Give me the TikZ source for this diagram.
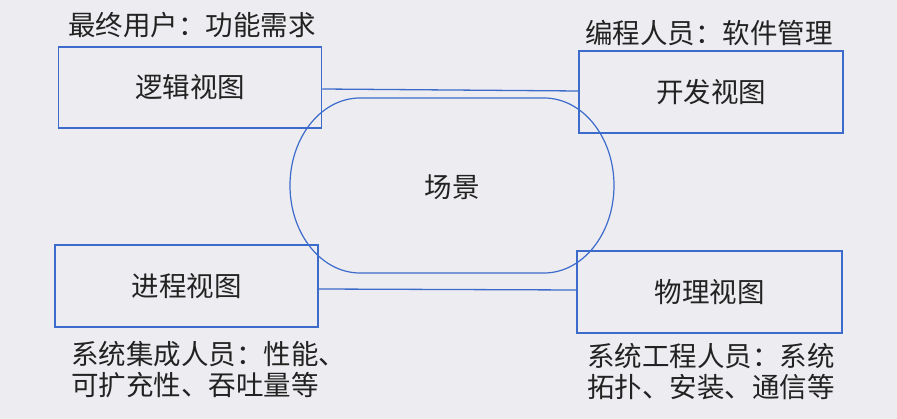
\documentclass[tikz,border=0pt]{standalone}
\usepackage{fontspec}
\newfontfamily\cjk{Noto Sans CJK SC}
\definecolor{bg}{HTML}{EDEDF1}
\definecolor{lineblue}{HTML}{3D6BCC}
\definecolor{txt}{HTML}{222222}
\begin{document}
\begin{tikzpicture}[x=1pt,y=-1pt,
  box/.style={draw=lineblue, line width=1.5pt, fill=bg, inner sep=0pt,
    minimum width=263pt, minimum height=81pt, text=txt,
    font=\cjk\fontsize{27.5}{31}\selectfont},
  lbl/.style={anchor=west, align=left, inner sep=0pt, text=txt,
    font=\cjk\fontsize{27.5}{31}\selectfont},
  conn/.style={draw=lineblue, line width=1.3pt}]
\fill[bg] (0,0) rectangle (897,419);
\useasboundingbox (0,0) rectangle (897,419);

\node[box] (logic) at (190,87.5) {逻辑视图};
\node[box, minimum width=264pt, minimum height=82pt] (dev) at (711,92) {开发视图};
\node[box, minimum height=82pt] (proc) at (186.5,286) {进程视图};
\node[box, minimum width=265pt, minimum height=82pt] (phys) at (709.5,292) {物理视图};

\draw[conn] ([yshift=-1.5pt]logic.east) -- ([yshift=1pt]dev.west);
\draw[conn] ([yshift=-3pt]proc.east) -- ([yshift=2pt]phys.west);

\draw[conn, line width=1.2pt] (360,98) -- (544,98)
  arc[start angle=90, end angle=-90, x radius=70, y radius=-87.5]
  -- (360,273)
  arc[start angle=270, end angle=90, x radius=70, y radius=-87.5] -- cycle;
\node[text=txt, font=\cjk\fontsize{27.5}{31}\selectfont] (scene) at (452,187) {场景};

\node[lbl] (lblA) at (68,25) {最终用户：功能需求};
\node[lbl] (lblB) at (585,33) {编程人员：软件管理};
\node[lbl] (lblC) at (71,370) {系统集成人员：性能、\\可扩充性、吞吐量等};
\node[lbl] (lblD) at (587,372) {系统工程人员：系统\\拓扑、安装、通信等};
\end{tikzpicture}
\end{document}
